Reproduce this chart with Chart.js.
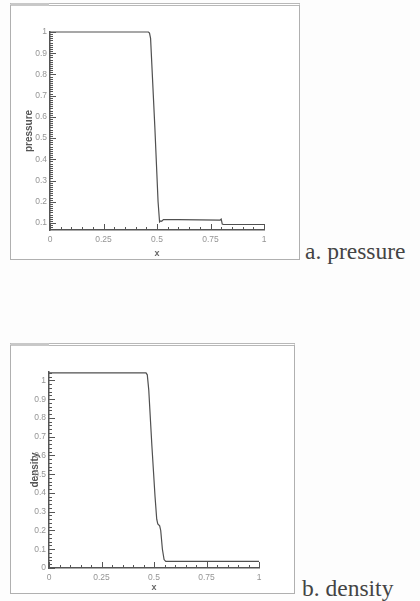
<!DOCTYPE html>
<html>
<head>
<meta charset="utf-8">
<script src="https://cdn.jsdelivr.net/npm/chart.js@4/dist/chart.umd.min.js"></script>
<style>
  html,body{margin:0;padding:0;background:#fdfdfd;}
  body{width:420px;height:601px;position:relative;overflow:hidden;font-family:"Liberation Serif",serif;}
  .frame{position:absolute;border:1px solid #b0b0b0;border-top:3px double #b8b8b8;background:#fff;box-sizing:border-box;}
  .bar{position:absolute;left:0;top:-3px;width:38px;height:3px;background:#c8c8c8;}
  .frame canvas{position:absolute;left:0;top:0;}
  .cap{position:absolute;font-size:23.5px;line-height:26px;color:#444;white-space:nowrap;}
</style>
</head>
<body>
<div class="frame" id="f1" style="left:10px;top:3px;width:290px;height:257px;"><div class="bar"></div><canvas id="c1" width="288" height="253"></canvas></div>
<div class="frame" id="f2" style="left:10px;top:343px;width:285px;height:251px;"><div class="bar"></div><canvas id="c2" width="283" height="247"></canvas></div>
<div class="cap" style="left:305px;top:238px;">a. pressure</div>
<div class="cap" style="left:302px;top:575px;">b. density</div>
<script>
// ---- data ----
const pressureX = [0, 0.46, 0.465, 0.47, 0.49, 0.505, 0.512, 0.517, 0.522, 0.53, 0.6, 0.7, 0.795, 0.8, 0.805, 0.81, 1];
const pressureY = [1, 1, 0.995, 0.97, 0.55, 0.2, 0.105, 0.11, 0.108, 0.116, 0.116, 0.115, 0.114, 0.118, 0.095, 0.093, 0.093];
const densityX = [0, 0.462, 0.468, 0.475, 0.49, 0.505, 0.513, 0.518, 0.527, 0.532, 0.54, 0.548, 0.556, 0.6, 1];
const densityY = [1.04, 1.04, 1.03, 0.95, 0.65, 0.38, 0.26, 0.235, 0.225, 0.2, 0.1, 0.045, 0.035, 0.035, 0.035];
const xTicks = [0, 0.25, 0.5, 0.75, 1];
const xTickLabels = ['0', '0.25', '0.5', '0.75', '1'];
const pressureTicks = [0.1, 0.2, 0.3, 0.4, 0.5, 0.6, 0.7, 0.8, 0.9, 1];
const pressureTickLabels = ['0.1', '0.2', '0.3', '0.4', '0.5', '0.6', '0.7', '0.8', '0.9', '1'];
const densityTicks = [0, 0.1, 0.2, 0.3, 0.4, 0.5, 0.6, 0.7, 0.8, 0.9, 1];
const densityTickLabels = ['0', '0.1', '0.2', '0.3', '0.4', '0.5', '0.6', '0.7', '0.8', '0.9', '1'];

const axisColor = '#555';
const labelColor = '#959595';

const inwardTicks = {
  id: 'inwardTicks',
  afterDatasetsDraw(chart, args, o) {
    const ctx = chart.ctx, xs = chart.scales.x, ys = chart.scales.y;
    const a = chart.chartArea;
    ctx.save();
    ctx.strokeStyle = axisColor;
    ctx.lineWidth = 1;
    const eps = 1e-6;
    for (let i = 0; ; i++) {
      const v = xs.min + i * o.xMinor;
      if (v > xs.max + eps) break;
      const major = xTicks.some(t => Math.abs(t - v) < eps);
      const px = Math.round(xs.getPixelForValue(v)) + 0.5;
      ctx.beginPath();
      ctx.moveTo(px, a.bottom);
      ctx.lineTo(px, a.bottom - (major ? 6 : 3));
      ctx.stroke();
    }
    const start = Math.ceil((ys.min - eps) / o.yMinor) * o.yMinor;
    for (let i = 0; ; i++) {
      const v = start + i * o.yMinor;
      if (v > ys.max + eps) break;
      const major = o.yMajor.some(t => Math.abs(t - v) < eps);
      const py = Math.round(ys.getPixelForValue(v)) + 0.5;
      ctx.beginPath();
      ctx.moveTo(a.left, py);
      ctx.lineTo(a.left + (major ? 6 : 3), py);
      ctx.stroke();
    }
    ctx.restore();
  }
};

function makeChart(id, xs, ys, yMin, yMax, yMajor, yLabels, yTitle, yMinor, pad, yWidth, xHeight, titlePad) {
  const data = xs.map((x, i) => ({x: x, y: ys[i]}));
  return new Chart(document.getElementById(id), {
    type: 'scatter',
    data: {datasets: [{data: data, showLine: true, borderColor: '#505050', borderWidth: 1.2, pointRadius: 0, tension: 0, clip: false}]},
    plugins: [inwardTicks],
    options: {
      responsive: false, animation: false,
      layout: {padding: pad},
      plugins: {legend: {display: false}, tooltip: {enabled: false}, inwardTicks: {xMinor: 0.05, yMinor: yMinor, yMajor: yMajor}},
      scales: {
        x: {
          type: 'linear', min: 0, max: 1,
          afterBuildTicks: s => { s.ticks = xTicks.map(v => ({value: v})); },
          afterFit: s => { s.height = xHeight; },
          grid: {display: false, drawTicks: false},
          border: {display: true, color: axisColor, width: 1.5},
          ticks: {color: labelColor, font: {family: 'Arial, "Liberation Sans"', size: 8.5}, padding: 5, maxRotation: 0,
                  callback: (v) => { const i = xTicks.findIndex(t => Math.abs(t - v) < 1e-6); return i >= 0 ? xTickLabels[i] : ''; }},
          title: {display: true, text: 'x', color: '#666', font: {family: 'Arial, "Liberation Sans"', size: 9, weight: 'bold'}, padding: {top: 0, bottom: 0}}
        },
        y: {
          type: 'linear', min: yMin, max: yMax,
          afterBuildTicks: s => { s.ticks = yMajor.map(v => ({value: v})); },
          afterFit: s => { s.width = yWidth; },
          grid: {display: false, drawTicks: false},
          border: {display: true, color: axisColor, width: 1.5},
          ticks: {color: labelColor, font: {family: 'Arial, "Liberation Sans"', size: 8.5}, padding: 3,
                  callback: (v) => { const i = yMajor.findIndex(t => Math.abs(t - v) < 1e-6); return i >= 0 ? yLabels[i] : ''; }},
          title: {display: true, text: yTitle, color: '#555', font: {family: 'Arial, "Liberation Sans"', size: 10, weight: 'bold'}, padding: titlePad}
        }
      }
    }
  });
}

makeChart('c1', pressureX, pressureY, 0.067, 1.0, pressureTicks, pressureTickLabels, 'pressure', 0.01,
          {top: 26, right: 35, left: 12, bottom: 0}, 27, 29, {top: 0, bottom: 0});
makeChart('c2', densityX, densityY, 0, 1.045, densityTicks, densityTickLabels, 'density', 0.02,
          {top: 26, right: 35, left: 18, bottom: 0}, 20, 25, {top: 0, bottom: -6});
</script>
</body>
</html>
